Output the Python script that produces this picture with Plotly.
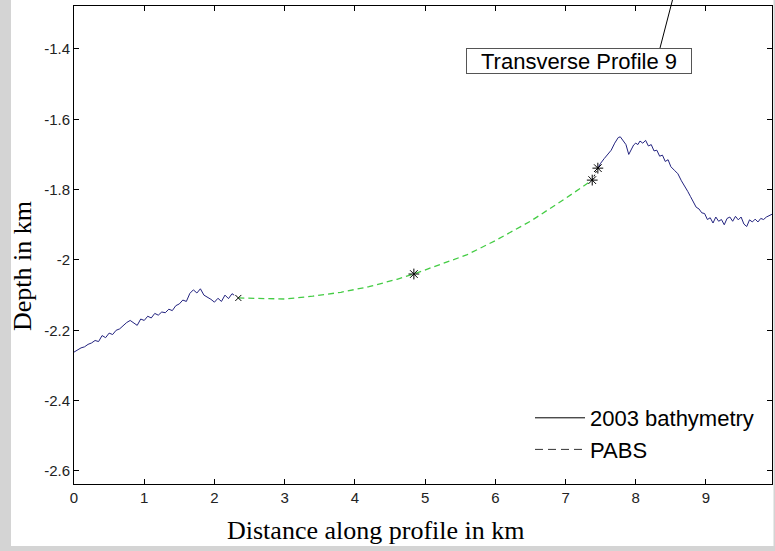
import plotly.graph_objects as go

# Bathymetry (2003), left segment
bathy_left_x = [0.00, 0.05, 0.10, 0.15, 0.20, 0.25, 0.30, 0.35, 0.40, 0.45, 0.50, 0.55,
                0.60, 0.65, 0.70, 0.75, 0.80, 0.85, 0.90, 0.95, 1.00, 1.05, 1.10, 1.15,
                1.20, 1.25, 1.30, 1.35, 1.40, 1.45, 1.50, 1.55, 1.60, 1.65, 1.70, 1.75,
                1.80, 1.85, 1.90, 1.95, 2.00, 2.05, 2.10, 2.15, 2.20, 2.25, 2.28]
bathy_left_y = [-2.262, -2.255, -2.250, -2.247, -2.240, -2.236, -2.229, -2.232, -2.215, -2.221,
                -2.208, -2.212, -2.200, -2.196, -2.186, -2.178, -2.172, -2.180, -2.186, -2.168,
                -2.172, -2.160, -2.165, -2.152, -2.157, -2.148, -2.150, -2.140, -2.144, -2.130,
                -2.125, -2.114, -2.118, -2.095, -2.085, -2.094, -2.082, -2.100, -2.105, -2.112,
                -2.120, -2.109, -2.118, -2.100, -2.110, -2.096, -2.100]

# Bathymetry (2003), right segment
bathy_right_x = [7.46, 7.50, 7.55, 7.60, 7.65, 7.70, 7.75, 7.78, 7.82, 7.86, 7.90, 7.93,
                 7.97, 8.00, 8.03, 8.06, 8.10, 8.14, 8.18, 8.22, 8.26, 8.30, 8.34, 8.38,
                 8.42, 8.46, 8.50, 8.55, 8.60, 8.65, 8.70, 8.74, 8.78, 8.82, 8.86, 8.90,
                 8.94, 8.98, 9.02, 9.06, 9.10, 9.14, 9.18, 9.22, 9.26, 9.30, 9.34, 9.38,
                 9.42, 9.46, 9.50, 9.54, 9.58, 9.62, 9.66, 9.70, 9.74, 9.78, 9.82, 9.86,
                 9.90, 9.94]
bathy_right_y = [-1.739, -1.725, -1.712, -1.700, -1.688, -1.668, -1.652, -1.650, -1.660, -1.672,
                 -1.700, -1.690, -1.673, -1.668, -1.672, -1.662, -1.668, -1.660, -1.676, -1.672,
                 -1.690, -1.688, -1.705, -1.702, -1.720, -1.715, -1.735, -1.745, -1.755, -1.775,
                 -1.790, -1.805, -1.820, -1.835, -1.850, -1.855, -1.866, -1.868, -1.885, -1.880,
                 -1.895, -1.878, -1.890, -1.885, -1.900, -1.882, -1.878, -1.890, -1.876, -1.886,
                 -1.878, -1.898, -1.905, -1.886, -1.892, -1.884, -1.892, -1.882, -1.885, -1.878,
                 -1.874, -1.870]

# PABS curve
pabs_x = [2.34, 2.6, 3.0, 3.4, 3.8, 4.2, 4.6, 4.84, 5.2, 5.6, 6.0, 6.5, 7.0, 7.38]
pabs_y = [-2.108, -2.110, -2.111, -2.103, -2.092, -2.076, -2.055, -2.040, -2.015, -1.985,
          -1.945, -1.890, -1.825, -1.773]

# Control points
star_x = [4.84, 7.38, 7.46]
star_y = [-2.040, -1.773, -1.739]
cross_x = [2.34]
cross_y = [-2.108]

x_ticks = [0, 1, 2, 3, 4, 5, 6, 7, 8, 9]
y_ticks = [-2.6, -2.4, -2.2, -2.0, -1.8, -1.6, -1.4]
y_ticklabels = ["-2.6", "-2.4", "-2.2", "-2", "-1.8", "-1.6", "-1.4"]

NAVY = "#23237f"
GREEN = "#44cc44"
GRAY_BG = "#d4d4d4"

fig = go.Figure()
fig.add_trace(go.Scatter(x=bathy_left_x, y=bathy_left_y, mode="lines",
                         line=dict(color=NAVY, width=1), showlegend=False, hoverinfo="skip"))
fig.add_trace(go.Scatter(x=bathy_right_x, y=bathy_right_y, mode="lines",
                         line=dict(color=NAVY, width=1), showlegend=False, hoverinfo="skip"))
fig.add_trace(go.Scatter(x=pabs_x, y=pabs_y, mode="lines",
                         line=dict(color=GREEN, width=1.3, dash="6px,4px"),
                         showlegend=False, hoverinfo="skip"))
fig.add_trace(go.Scatter(x=[star_x[1], star_x[2]], y=[star_y[1], star_y[2]], mode="lines",
                         line=dict(color="black", width=1, dash="2px,2px"),
                         showlegend=False, hoverinfo="skip"))
fig.add_trace(go.Scatter(x=star_x, y=star_y, mode="markers",
                         marker=dict(symbol="asterisk-open", size=9, color="black",
                                     line=dict(color="black", width=1)),
                         showlegend=False, hoverinfo="skip"))
fig.add_trace(go.Scatter(x=cross_x, y=cross_y, mode="markers",
                         marker=dict(symbol="x-thin-open", size=6, color="black",
                                     line=dict(color="black", width=1)),
                         showlegend=False, hoverinfo="skip"))
# legend entries
fig.add_trace(go.Scatter(x=[None], y=[None], mode="lines", name="2003 bathymetry",
                         line=dict(color="black", width=1), legendgroup="a"))
fig.add_trace(go.Scatter(x=[None], y=[None], mode="lines", name="PABS",
                         line=dict(color="#333333", width=1, dash="8px,5px"), legendgroup="b"))

W, H = 775, 551
L, R, T, B = 74, 3, 6, 67
pw, ph = W - L - R, H - T - B


def px(xp):
    return (xp - L) / pw


def py(yp):
    return (H - B - yp) / ph


shapes = [
    # gray surround strips
    dict(type="rect", xref="paper", yref="paper", x0=px(0), x1=px(11), y0=py(H), y1=py(0),
         fillcolor=GRAY_BG, line=dict(width=0), layer="below"),
    dict(type="rect", xref="paper", yref="paper", x0=px(0), x1=px(W), y0=py(H), y1=py(546),
         fillcolor=GRAY_BG, line=dict(width=0), layer="below"),
    dict(type="rect", xref="paper", yref="paper", x0=px(773.5), x1=px(W), y0=py(H), y1=py(0),
         fillcolor=GRAY_BG, line=dict(width=0), layer="below"),
    # label leader line
    dict(type="line", xref="paper", yref="paper", x0=px(660), y0=py(48), x1=px(673), y1=py(-2),
         line=dict(color="black", width=1)),
]

annotations = [
    dict(text="Transverse Profile 9", xref="paper", yref="paper", x=px(579), y=py(61),
         xanchor="center", yanchor="middle", showarrow=False, width=222, height=22,
         font=dict(family="Arial, Liberation Sans", size=22, color="black"),
         bordercolor="#555555", borderwidth=1, borderpad=1, bgcolor="white"),
    dict(text="Distance along profile in km", xref="paper", yref="paper", x=px(375), y=py(530),
         xanchor="center", yanchor="middle", showarrow=False,
         font=dict(family="Times New Roman, Liberation Serif", size=26, color="black")),
    dict(text="Depth in km", xref="paper", yref="paper", x=px(22), y=py(266),
         xanchor="center", yanchor="middle", showarrow=False, textangle=-90,
         font=dict(family="Times New Roman, Liberation Serif", size=26, color="black")),
]

axis_common = dict(showline=True, linecolor="black", linewidth=1, mirror="ticks",
                   ticks="inside", ticklen=5, tickcolor="black", showgrid=False,
                   zeroline=False,
                   tickfont=dict(family="Arial, Liberation Sans", size=15, color="#222222"))

fig.update_layout(
    width=W, height=H,
    margin=dict(l=L, r=R, t=T, b=B),
    paper_bgcolor="white", plot_bgcolor="white",
    xaxis=dict(range=[0, 9.94], tickvals=x_ticks, ticktext=[str(v) for v in x_ticks], **axis_common),
    yaxis=dict(range=[-2.637, -1.278], tickvals=y_ticks, ticktext=y_ticklabels, **axis_common),
    shapes=shapes, annotations=annotations,
    legend=dict(x=px(530), y=py(397), xanchor="left", yanchor="top",
                bgcolor="rgba(0,0,0,0)", borderwidth=0, tracegroupgap=0,
                font=dict(family="Arial, Liberation Sans", size=22, color="black"),
                itemwidth=50),
    showlegend=True,
)

fig.write_html("out.html")
